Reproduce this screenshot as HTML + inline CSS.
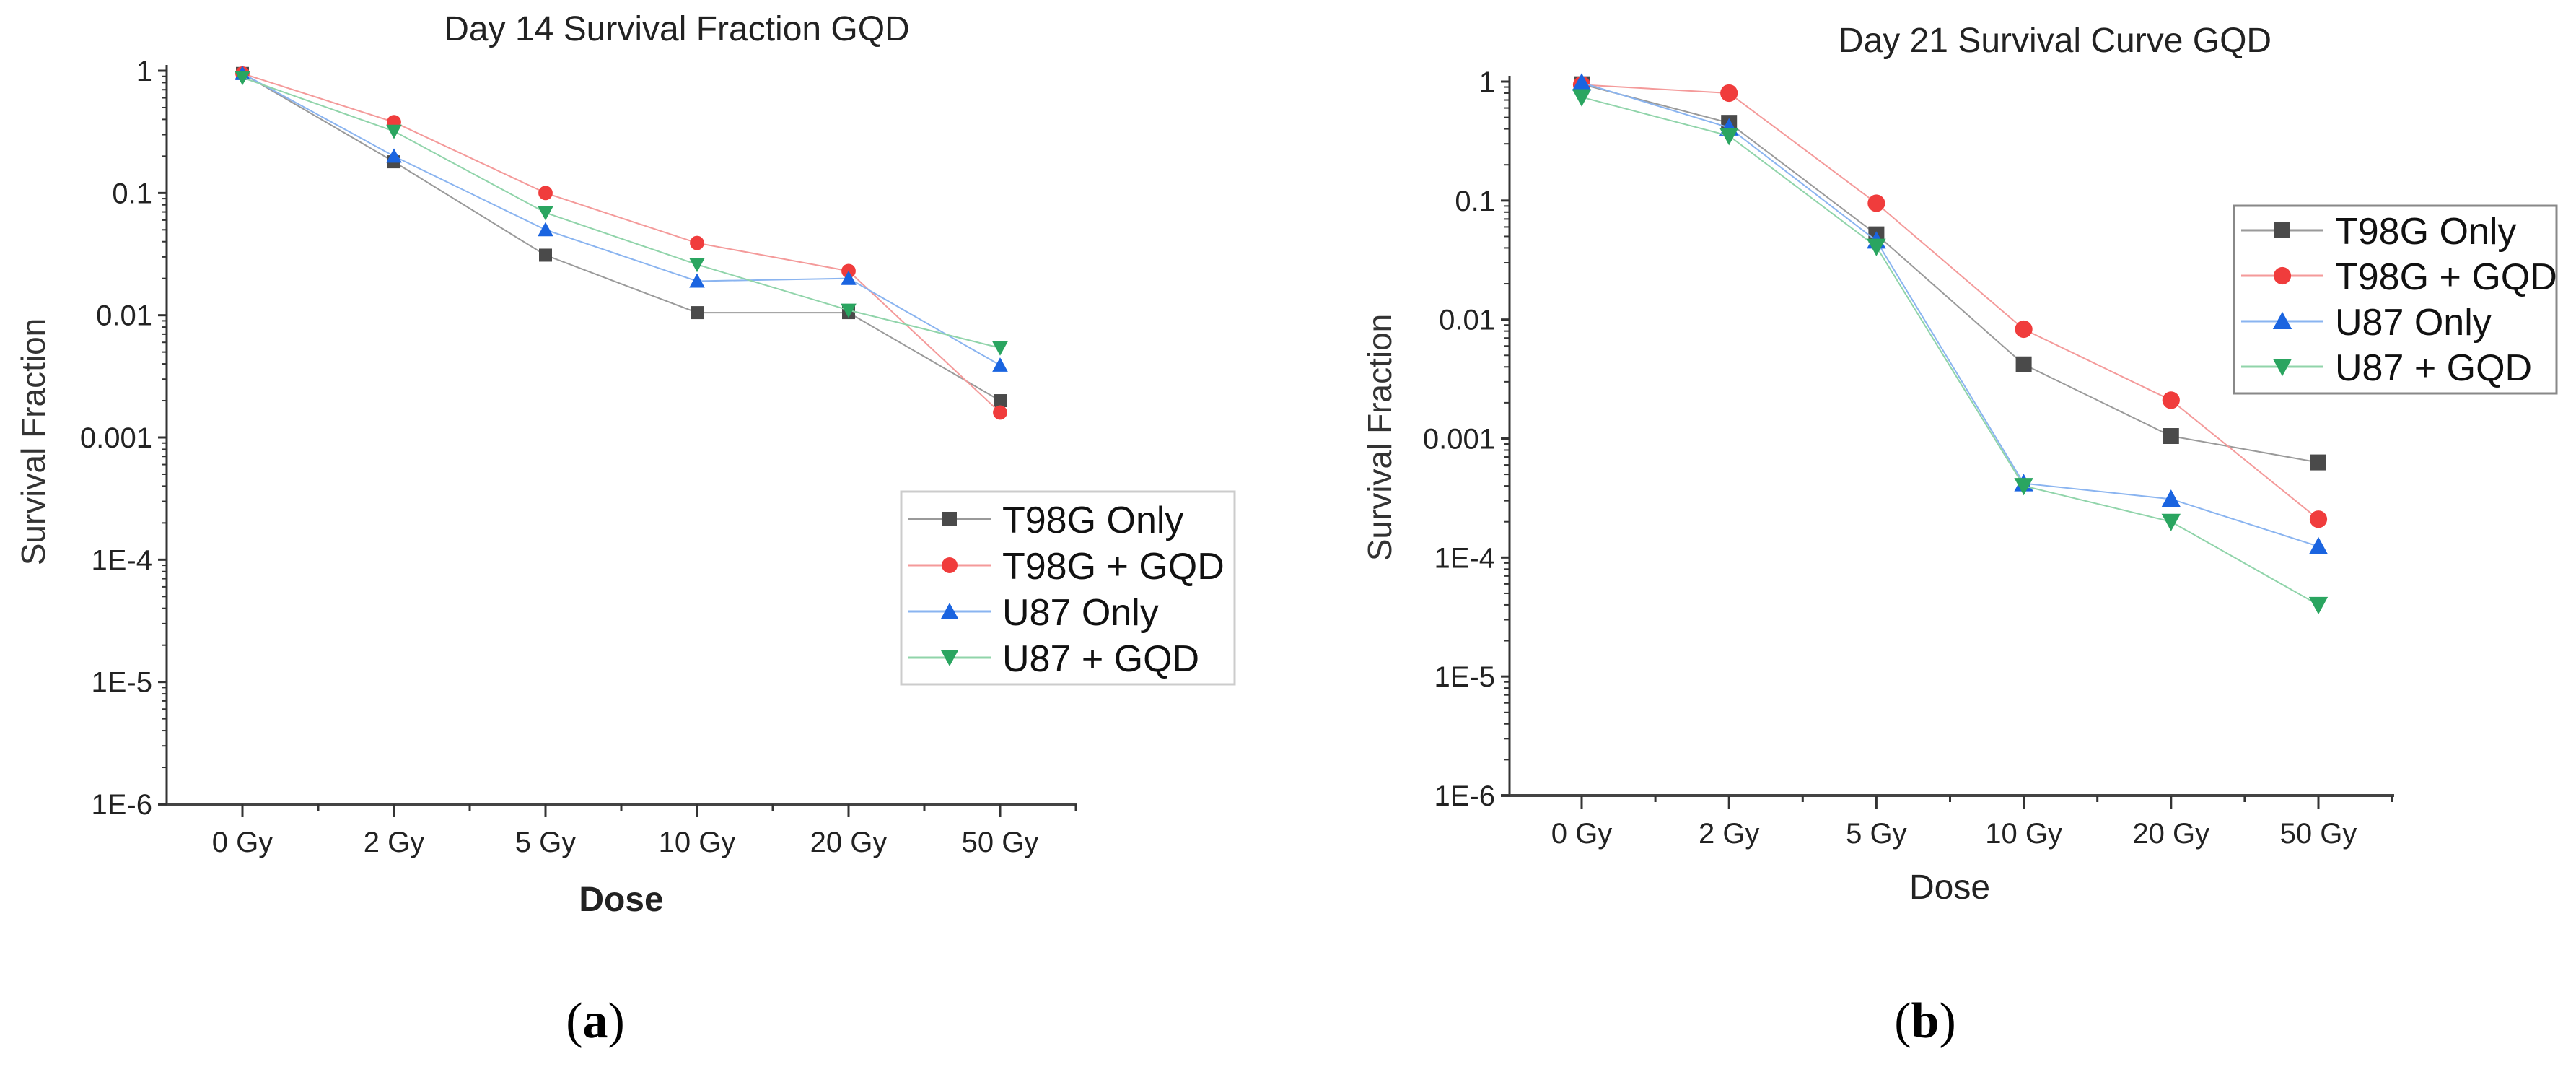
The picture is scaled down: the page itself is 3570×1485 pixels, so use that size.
<!DOCTYPE html>
<html><head><meta charset="utf-8"><style>
html,body{margin:0;padding:0;background:#fff;}
svg{display:block;font-family:"Liberation Sans",sans-serif;}
</style></head><body>
<svg id="fig" width="3570" height="1485" viewBox="0 0 3570 1485" xmlns="http://www.w3.org/2000/svg">
<g id="chartA"></g>
<g id="chartB"></g>
<text x="825" y="1437" font-family="Liberation Serif,serif" font-size="70" text-anchor="middle" fill="#000">(<tspan font-weight="bold">a</tspan>)</text>
<text x="2668" y="1437" font-family="Liberation Serif,serif" font-size="70" text-anchor="middle" fill="#000">(<tspan font-weight="bold">b</tspan>)</text>
</svg>
<script>
const categories = ["0 Gy","2 Gy","5 Gy","10 Gy","20 Gy","50 Gy"];
const seriesNames = ["T98G Only","T98G + GQD","U87 Only","U87 + GQD"];
const yTickLabels = ["1","0.1","0.01","0.001","1E-4","1E-5","1E-6"];
const yTickExps = [0,-1,-2,-3,-4,-5,-6];
// Day 14
const d14_T98G = [0.95,0.18,0.031,0.0105,0.0105,0.002];
const d14_T98G_GQD = [0.95,0.38,0.1,0.039,0.023,0.0016];
const d14_U87 = [0.95,0.2,0.05,0.019,0.02,0.0039];
const d14_U87_GQD = [0.88,0.32,0.069,0.026,0.011,0.0054];
// Day 21
const d21_T98G = [0.95,0.45,0.052,0.0042,0.00105,0.00063];
const d21_T98G_GQD = [0.94,0.8,0.095,0.0083,0.0021,0.00021];
const d21_U87 = [0.98,0.41,0.046,0.00042,0.00031,0.000124];
const d21_U87_GQD = [0.74,0.35,0.041,0.0004,0.0002,0.00004];

const colors = ["#4a4a4a","#f03c3c","#1a64e0","#2aa560"];
const lineColors = ["#9a9a9a","#f49a9a","#8ab4f0","#90d4aa"];
const shapes = ["square","circle","up","down"];
const NS = "http://www.w3.org/2000/svg";
function mk(tag, attrs, parent){const e=document.createElementNS(NS,tag);for(const k in attrs)e.setAttribute(k,attrs[k]);parent.appendChild(e);return e;}

function marker(g,shape,x,y,s,color){
  let e;
  if(shape==="square") e=mk("rect",{x:x-s,y:y-s,width:2*s,height:2*s,fill:color},g);
  else if(shape==="circle") e=mk("circle",{cx:x,cy:y,r:s*1.1,fill:color},g);
  else if(shape==="up") e=mk("polygon",{points:`${x-s*1.2},${y+s} ${x+s*1.2},${y+s} ${x},${y-s*1.2}`,fill:color},g);
  else e=mk("polygon",{points:`${x-s*1.2},${y-s} ${x+s*1.2},${y-s} ${x},${y+s*1.2}`,fill:color},g);
  
  
  return e;
}

function drawChart(g, cfg, data){
  const yScale = v => cfg.y0 + (-Math.log10(v))*(cfg.y6-cfg.y0)/6;
  const xScale = i => cfg.xc0 + i*cfg.dx;
  const ax = mk("g",{},g);
  
  
  mk("line",{x1:cfg.ax,y1:cfg.y0-8,x2:cfg.ax,y2:cfg.y6,stroke:"#333","stroke-width":cfg.aw},ax);
  mk("line",{x1:cfg.ax-12,y1:cfg.y6,x2:cfg.xEnd,y2:cfg.y6,stroke:"#444","stroke-width":cfg.aw+1},ax);
  yTickExps.forEach((e,i)=>{
    const y = yScale(Math.pow(10,e));
    mk("line",{x1:cfg.ax-12,y1:y,x2:cfg.ax,y2:y,stroke:"#333","stroke-width":3},ax);
    const t=mk("text",{x:cfg.ax-20,y:y+14,"font-size":cfg.tf,"text-anchor":"end",fill:"#222"},ax);
    t.textContent=yTickLabels[i];
    
    
    if(e>-6){for(let m=2;m<=9;m++){const ym=yScale(Math.pow(10,e-1)*m);mk("line",{x1:cfg.ax-7,y1:ym,x2:cfg.ax,y2:ym,stroke:"#333","stroke-width":2},ax);}}
  });
  categories.forEach((c,i)=>{
    const x=xScale(i);
    mk("line",{x1:x,y1:cfg.y6,x2:x,y2:cfg.y6+18,stroke:"#333","stroke-width":3},ax);
    mk("line",{x1:x+cfg.dx/2,y1:cfg.y6,x2:x+cfg.dx/2,y2:cfg.y6+9,stroke:"#333","stroke-width":3},ax);
    const t=mk("text",{x:x,y:cfg.y6+66,"font-size":cfg.tf,"text-anchor":"middle",fill:"#222"},ax);
    t.textContent=c;
    
    
  });
  const tt=mk("text",{x:cfg.titleX,y:cfg.titleY,"font-size":48,"text-anchor":"middle",fill:"#222"},g);
  tt.textContent=cfg.title;
  
  
  const yt=mk("text",{x:0,y:0,"font-size":46,"text-anchor":"middle",fill:"#333",transform:`translate(${cfg.ytX},${cfg.ytY}) rotate(-90)`},g);
  yt.textContent="Survival Fraction";
  
  
  const xt=mk("text",{x:cfg.doseX,y:cfg.doseY,"font-size":48,"text-anchor":"middle",fill:"#222","font-weight":cfg.doseBold?"bold":"normal"},g);
  xt.textContent="Dose";
  
  
  data.forEach((vals,si)=>{
    const sg=mk("g",{},g);
    
    
    const pts=vals.map((v,i)=>xScale(i)+","+yScale(v)).join(" ");
    const pl=mk("polyline",{points:pts,fill:"none",stroke:lineColors[si],"stroke-width":cfg.lw},sg);
    
    
    vals.forEach((v,i)=>marker(sg,shapes[si],xScale(i),yScale(v),cfg.ms,colors[si]));
  });
  const lg=mk("g",{},g);
  
  
  mk("rect",{x:cfg.lx,y:cfg.ly,width:cfg.lw2,height:cfg.lh,fill:"#fff",stroke:cfg.lstroke,"stroke-width":3},lg);
  seriesNames.forEach((n,si)=>{
    const y=cfg.ly+cfg.le0+si*cfg.led;
    const eg=mk("g",{},lg);
    
    
    mk("line",{x1:cfg.lx+10,y1:y,x2:cfg.lx+124,y2:y,stroke:lineColors[si],"stroke-width":3},eg);
    marker(eg,shapes[si],cfg.lx+67,y,cfg.lms,colors[si]);
    const t=mk("text",{x:cfg.lx+140,y:y+19,"font-size":cfg.lf,fill:"#111"},eg);
    t.textContent=n;
  });
}

drawChart(document.getElementById("chartA"),{
  ax:231,y0:98,y6:1114,xc0:336,dx:210,xEnd:1492,aw:3,tf:40,lw:2,ms:9,
  title:"Day 14 Survival Fraction GQD",titleX:938,titleY:56,
  ytX:62,ytY:612,doseX:861,doseY:1262,doseBold:true,
  lx:1249,ly:681,lw2:462,lh:267,le0:38,led:64,lf:52,lms:10,lstroke:"#cccccc"
},[d14_T98G,d14_T98G_GQD,d14_U87,d14_U87_GQD]);

drawChart(document.getElementById("chartB"),{
  ax:2092,y0:113,y6:1102,xc0:2192,dx:204.2,xEnd:3318,aw:3,tf:40,lw:2,ms:11,
  title:"Day 21 Survival Curve GQD",titleX:2848,titleY:72,
  ytX:1928,ytY:606,doseX:2702,doseY:1245,doseBold:false,
  lx:3096,ly:285,lw2:447,lh:260,le0:34,led:63,lf:52,lms:11,lstroke:"#888888"
},[d21_T98G,d21_T98G_GQD,d21_U87,d21_U87_GQD]);
</script>
</body></html>
